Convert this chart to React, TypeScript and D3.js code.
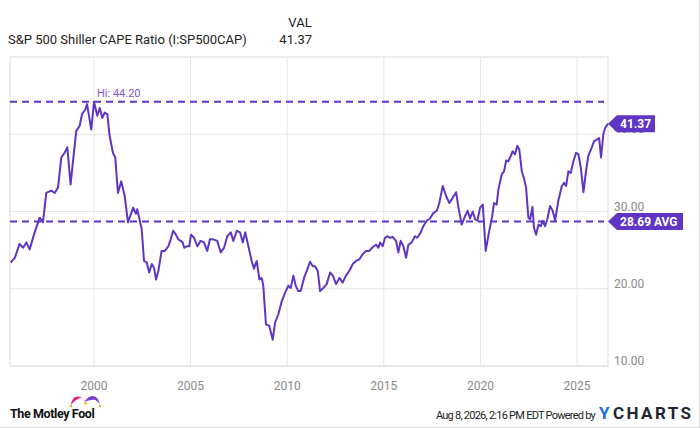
import React from "react";
import * as d3 from "d3";

const years: number[] = [
  1995.69, 1995.9, 1996.15, 1996.33, 1996.5, 1996.67, 1996.93, 1997.19, 1997.36, 1997.53,
  1997.79, 1997.97, 1998.14, 1998.31, 1998.48, 1998.62, 1998.79, 1998.96, 1999.08, 1999.26,
  1999.38, 1999.55, 1999.64, 1999.86, 2000.0, 2000.17, 2000.3, 2000.43, 2000.55, 2000.69,
  2000.81, 2000.98, 2001.1, 2001.24, 2001.41, 2001.59, 2001.76, 2002.03, 2002.17, 2002.24,
  2002.47, 2002.59, 2002.73, 2002.86, 2002.99, 2003.11, 2003.21, 2003.33, 2003.5, 2003.67,
  2003.85, 2003.97, 2004.1, 2004.24, 2004.36, 2004.49, 2004.59, 2004.67, 2004.8, 2004.93,
  2005.02, 2005.18, 2005.35, 2005.52, 2005.69, 2005.86, 2006.0, 2006.17, 2006.38, 2006.56,
  2006.73, 2006.9, 2007.08, 2007.21, 2007.39, 2007.56, 2007.7, 2007.83, 2007.99, 2008.16,
  2008.28, 2008.42, 2008.56, 2008.68, 2008.76, 2008.9, 2009.07, 2009.25, 2009.37, 2009.54,
  2009.72, 2009.89, 2010.06, 2010.18, 2010.32, 2010.44, 2010.57, 2010.7, 2010.87, 2011.04,
  2011.18, 2011.32, 2011.44, 2011.58, 2011.7, 2011.87, 2012.04, 2012.22, 2012.36, 2012.53,
  2012.7, 2012.87, 2013.04, 2013.21, 2013.39, 2013.56, 2013.73, 2013.91, 2014.08, 2014.25,
  2014.43, 2014.6, 2014.72, 2014.8, 2014.94, 2015.06, 2015.18, 2015.32, 2015.46, 2015.63,
  2015.75, 2015.87, 2016.01, 2016.15, 2016.27, 2016.44, 2016.61, 2016.73, 2016.91, 2017.04,
  2017.22, 2017.39, 2017.56, 2017.74, 2017.87, 2018.05, 2018.22, 2018.39, 2018.57, 2018.74,
  2018.86, 2019.03, 2019.2, 2019.34, 2019.46, 2019.6, 2019.72, 2019.84, 2019.98, 2020.12,
  2020.27, 2020.44, 2020.6, 2020.7, 2020.84, 2020.93, 2021.1, 2021.22, 2021.33, 2021.44,
  2021.57, 2021.67, 2021.79, 2021.91, 2022.01, 2022.14, 2022.26, 2022.36, 2022.48, 2022.57,
  2022.69, 2022.77, 2022.88, 2023.0, 2023.12, 2023.22, 2023.34, 2023.46, 2023.6, 2023.74,
  2023.86, 2024.03, 2024.21, 2024.33, 2024.43, 2024.55, 2024.67, 2024.81, 2024.95, 2025.07,
  2025.19, 2025.33, 2025.47, 2025.58, 2025.76, 2025.88, 2026.02, 2026.14, 2026.24, 2026.36,
  2026.45, 2026.6,
];

const cape: number[] = [
  23.4, 24.0, 25.8, 25.3, 26.0, 25.1, 27.3, 29.2, 28.6, 32.4,
  32.7, 32.4, 33.1, 37.0, 37.6, 38.3, 33.5, 37.6, 40.4, 41.1,
  42.6, 43.2, 43.9, 40.6, 44.2, 42.4, 43.4, 42.1, 42.8, 42.6,
  39.8, 37.6, 37.0, 32.4, 33.9, 32.0, 28.6, 30.5, 29.7, 30.3,
  27.7, 23.6, 23.4, 22.1, 23.2, 22.7, 21.2, 22.3, 24.9, 24.9,
  25.5, 26.4, 27.5, 27.0, 26.4, 26.2, 26.0, 25.3, 25.5, 25.5,
  27.0, 26.6, 25.5, 26.2, 26.0, 24.9, 26.4, 26.4, 26.2, 24.7,
  25.3, 26.8, 27.3, 26.2, 27.5, 27.3, 26.0, 27.3, 25.5, 23.6,
  22.6, 23.6, 21.2, 21.4, 20.4, 15.4, 15.2, 13.4, 15.6, 16.7,
  18.4, 19.5, 20.4, 20.1, 21.7, 20.4, 19.7, 19.7, 21.4, 22.5,
  23.5, 22.9, 22.9, 22.3, 19.7, 20.1, 20.6, 22.1, 21.7, 20.6,
  21.4, 20.8, 21.7, 22.3, 23.2, 23.6, 23.8, 24.5, 24.9, 24.9,
  25.4, 25.7, 25.3, 26.0, 25.5, 26.6, 26.8, 26.6, 26.7, 26.2,
  24.7, 26.2, 25.5, 24.0, 25.7, 26.0, 26.8, 26.6, 27.3, 28.1,
  28.8, 29.1, 29.8, 30.1, 31.1, 33.3, 32.0, 31.1, 31.8, 32.5,
  30.5, 28.3, 29.4, 30.1, 29.1, 30.0, 29.0, 28.8, 30.5, 30.9,
  24.9, 27.3, 29.3, 31.1, 30.9, 32.9, 34.8, 35.2, 36.6, 36.5,
  37.2, 37.8, 37.4, 38.5, 38.0, 35.2, 34.2, 33.1, 29.2, 29.0,
  30.6, 27.9, 27.0, 28.3, 28.1, 28.8, 28.1, 29.0, 30.7, 30.1,
  28.8, 31.4, 33.3, 33.7, 33.3, 35.2, 35.0, 36.5, 37.6, 37.4,
  35.7, 32.5, 35.4, 37.2, 38.3, 39.1, 39.3, 39.5, 37.0, 40.0,
  40.8, 41.37,
];

const yTicks: number[] = [10, 20, 30, 40];
const xTicks: number[] = [2000, 2005, 2010, 2015, 2020, 2025];
const seriesName = "S&P 500 Shiller CAPE Ratio (I:SP500CAP)";
const lastValue = 41.37;
const hiValue = 44.2;
const avgValue = 28.69;
const footerText = "Aug 8, 2026, 2:16 PM EDT Powered by";

const W = 700;
const H = 428;
const left = 10;
const right = 608;
const top = 57;
const bottom = 366;
const purple = "#5f35c4";
const grid = "#e6e6e6";
const font = "Roboto, 'Open Sans', sans-serif";

export default function App() {
  const x = d3
    .scaleLinear()
    .domain([d3.min(years) as number, d3.max(years) as number])
    .range([left + 0.7, right]);
  const y = d3.scaleLinear().domain([10, 50]).range([bottom, top]);

  const data = years.map((yr, i) => [yr, cape[i]] as [number, number]);
  const line = d3
    .line<[number, number]>()
    .x((d) => x(d[0]))
    .y((d) => y(d[1]));

  const lastY = y(lastValue);
  const avgY = y(avgValue);
  const hiY = y(hiValue);
  const hiX = x(years[cape.indexOf(d3.max(cape) as number)]);

  const tag = (cy: number, w: number) =>
    `M${right},${cy} L${right + 9},${cy - 8.5} L${right + w},${cy - 8.5} L${right + w},${cy + 8.5} L${right + 9},${cy + 8.5} Z`;

  return (
    <svg
      width={W}
      height={H}
      style={{ position: "absolute", left: 0, top: 0, background: "#fff" }}
      fontFamily={font}
    >
      <rect x={0} y={0} width={W} height={H} fill="#fff" />
      {/* header */}
      <text x={300} y={27} fontSize={13} fill="#222" textAnchor="middle">
        VAL
      </text>
      <text x={8} y={44} fontSize={13} fill="#222">
        {seriesName}
      </text>
      <text x={312} y={44} fontSize={13} fill="#222" textAnchor="end">
        {lastValue.toFixed(2)}
      </text>

      {/* grid */}
      {yTicks.map((t) => (
        <line key={"gy" + t} x1={left} x2={right} y1={y(t)} y2={y(t)} stroke={grid} strokeWidth={1} />
      ))}
      {xTicks.map((t) => (
        <line key={"gx" + t} x1={x(t)} x2={x(t)} y1={top} y2={bottom} stroke={grid} strokeWidth={1} />
      ))}
      <rect x={left} y={top} width={right - left} height={bottom - top} fill="none" stroke="#dcdcdc" strokeWidth={1} />

      {/* axis labels */}
      {yTicks.map((t) => (
        <text key={"ly" + t} x={614} y={y(t) - 1} fontSize={12} fill="#8a8a8a">
          {t.toFixed(2)}
        </text>
      ))}
      {xTicks.map((t) => (
        <text key={"lx" + t} x={x(t)} y={390} fontSize={12} fill="#8a8a8a" textAnchor="middle">
          {t}
        </text>
      ))}

      {/* reference lines */}
      <line x1={left} x2={604} y1={hiY} y2={hiY} stroke={purple} strokeWidth={2} strokeDasharray="7,5" />
      <line x1={left} x2={604} y1={avgY} y2={avgY} stroke={purple} strokeWidth={2} strokeDasharray="7,5" />
      <text x={hiX + 3} y={hiY - 5} fontSize={11} fill="#7c5cd0">
        {"Hi: " + hiValue.toFixed(2)}
      </text>

      {/* series */}
      <path d={line(data) || ""} fill="none" stroke={purple} strokeWidth={2} strokeLinejoin="round" />

      {/* tags */}
      <path d={tag(lastY, 47)} fill={purple} />
      <text x={620} y={lastY + 4} fontSize={12} fontWeight="bold" fill="#fff">
        {lastValue.toFixed(2)}
      </text>
      <path d={tag(avgY, 75)} fill={purple} />
      <text x={620} y={avgY + 4} fontSize={12} fontWeight="bold" fill="#fff">
        {avgValue.toFixed(2) + " AVG"}
      </text>

      {/* footer */}
      <text x={10} y={418} fontSize={12.5} fontWeight="bold" fill="#111" letterSpacing={-0.4}>
        The Motley Fool
      </text>
      <path d="M71,405 C72,396 79,393 86,402 C84,398 80,397 78,399 C76,400 73,402 71,405 Z" fill="#e0207a" />
      <path d="M84,402 C90,393 98,394 100,405 C98,401 95,399 92,400 C89,400 86,401 84,402 Z" fill="#7a3fcf" />
      <circle cx={71} cy={406} r={1.2} fill="#f2b705" />
      <circle cx={85.5} cy={403.5} r={1.2} fill="#f2b705" />
      <circle cx={100} cy={406} r={1.2} fill="#f2b705" />

      <text x={595} y={419} fontSize={11} fill="#222" textAnchor="end" letterSpacing={-0.75}>
        {footerText}
      </text>
      <text x={599} y={419} fontSize={17} fontWeight="bold" fill="#1a6fe0">
        Y
      </text>
      <text x={613} y={419} fontSize={17} fontWeight="bold" fill="#1e2633" letterSpacing={2.4}>
        CHARTS
      </text>

      {/* frame */}
      <line x1={0} x2={W} y1={H - 0.5} y2={H - 0.5} stroke="#ddd" />
      <line x1={W - 0.5} x2={W - 0.5} y1={0} y2={H} stroke="#ddd" />
    </svg>
  );
}
